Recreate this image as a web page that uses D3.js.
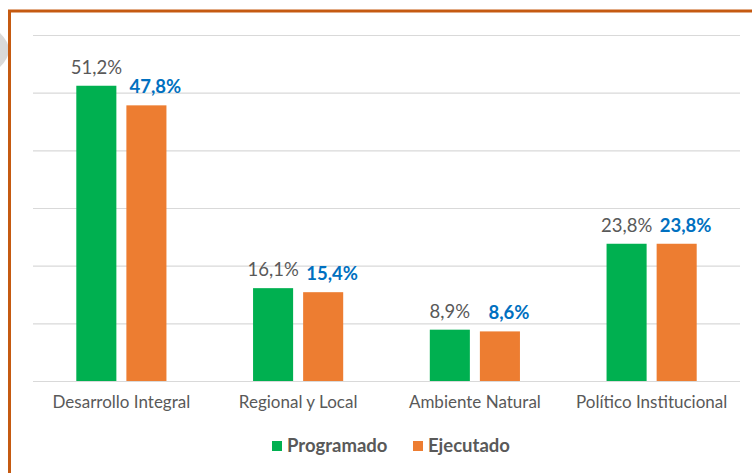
<!DOCTYPE html>
<html lang="es">
<head>
<meta charset="utf-8">
<title>Programado vs Ejecutado</title>
<style>
    body { margin : 0; background : #fff; }
    svg text { font-family : Lato, "Open Sans", sans-serif; }
</style>
</head>
<body>
<div id="chart"></div>
<script src="https://cdn.jsdelivr.net/npm/d3@7"></script>
<script>

    var categories = [ "Desarrollo Integral" , "Regional y Local" , "Ambiente Natural" , "Político Institucional" ];
    var series = [ "Programado" , "Ejecutado" ];
    var programado = [ 51.2 , 16.1 , 8.9 , 23.8 ];
    var ejecutado = [ 47.8 , 15.4 , 8.6 , 23.8 ];
    var yTicks = [ 0 , 10 , 20 , 30 , 40 , 50 , 60 ];

    var colors = { "Programado" : "#00B050" , "Ejecutado" : "#ED7D31" };

    var width = 752, height = 473;
    var svg = d3.select( "#chart" ).append( "svg" )
        .attr( "width" , width )
        .attr( "height" , height );

    // slide bits: grey arrow at left edge and the orange frame
    svg.append( "path" )
        .attr( "d" , "M0,33 L0,67 Q9,58 9,50 Q9,42 0,33 Z" )
        .style( "fill" , "#d9d9d9" );
    svg.append( "path" )
        .attr( "d" , "M9.5," + height + " L9.5,11 L" + width + ",11" )
        .style( "fill" , "none" )
        .style( "stroke" , "#C55A11" )
        .style( "stroke-width" , 3 );

    var x0 = d3.scaleBand().domain( categories ).range( [ 33 , 740 ] ).paddingInner( 0.49 ).paddingOuter( 0.245 );
    var x1 = d3.scaleBand().domain( series ).range( [ 0 , x0.bandwidth() ] ).paddingInner( 0.2 );
    var y = d3.scaleLinear().domain( [ 0 , 60 ] ).range( [ 381 , 35 ] );

    // gridlines
    svg.append( "g" )
        .attr( "transform" , "translate(33,0)" )
        .call( d3.axisLeft( y ).tickValues( yTicks ).tickSize( -707 ).tickFormat( "" ) )
        .call( function( g ) { g.select( ".domain" ).remove(); } )
        .selectAll( "line" )
            .style( "stroke" , "#d9d9d9" )
            .style( "stroke-width" , 1.2 );

    var rows = categories.map( function( c , i ) {
        return { cat : c , values : [ { s : "Programado" , v : programado[i] } , { s : "Ejecutado" , v : ejecutado[i] } ] };
    } );

    var group = svg.selectAll( ".grp" )
        .data( rows )
        .enter().append( "g" )
            .attr( "class" , "grp" )
            .attr( "transform" , function( d ) { return "translate(" + x0( d.cat ) + ",0)"; } );

    group.selectAll( "rect" )
        .data( function( d ) { return d.values; } )
        .enter().append( "rect" )
            .attr( "x" , function( d ) { return x1( d.s ); } )
            .attr( "y" , function( d ) { return y( d.v ); } )
            .attr( "width" , x1.bandwidth() )
            .attr( "height" , function( d ) { return y( 0 ) - y( d.v ); } )
            .style( "fill" , function( d ) { return colors[ d.s ]; } );

    // value labels, the executed ones sit a bit to the right
    group.selectAll( "text" )
        .data( function( d ) { return d.values; } )
        .enter().append( "text" )
            .attr( "x" , function( d ) { return x1( d.s ) + x1.bandwidth() / 2 + ( d.s == "Ejecutado" ? 9 : 0 ); } )
            .attr( "y" , function( d ) { return y( d.v ) - 12; } )
            .attr( "text-anchor" , "middle" )
            .style( "font-size" , "18.5px" )
            .style( "font-weight" , function( d ) { return d.s == "Ejecutado" ? "bold" : "normal"; } )
            .style( "fill" , function( d ) { return d.s == "Ejecutado" ? "#0070C0" : "#595959"; } )
            .text( function( d ) { return d3.format( ".1f" )( d.v ).replace( "." , "," ) + "%"; } );

    // category axis
    var xAxis = svg.append( "g" )
        .attr( "transform" , "translate(0,381)" )
        .call( d3.axisBottom( x0 ).tickSize( 0 ).tickPadding( 15 ) );
    xAxis.select( ".domain" ).attr( "d" , "M33,0.5H740" ).style( "stroke" , "#d9d9d9" ).style( "stroke-width" , 1.2 );
    xAxis.selectAll( "text" )
        .style( "font-family" , "Lato, sans-serif" )
        .style( "font-size" , "17px" )
        .style( "fill" , "#595959" );

    // legend
    var legendX = [ 272 , 413 ];
    var legend = svg.selectAll( ".legend" )
        .data( series )
        .enter().append( "g" )
            .attr( "class" , "legend" )
            .attr( "transform" , function( d , i ) { return "translate(" + legendX[i] + ",441)"; } );
    legend.append( "rect" )
        .attr( "width" , 10 )
        .attr( "height" , 10 )
        .style( "fill" , function( d ) { return colors[ d ]; } );
    legend.append( "text" )
        .attr( "x" , 15 )
        .attr( "y" , 11 )
        .style( "font-size" , "18.5px" )
        .style( "font-weight" , "bold" )
        .style( "fill" , "#595959" )
        .text( function( d ) { return d; } );

</script>
</body>
</html>
